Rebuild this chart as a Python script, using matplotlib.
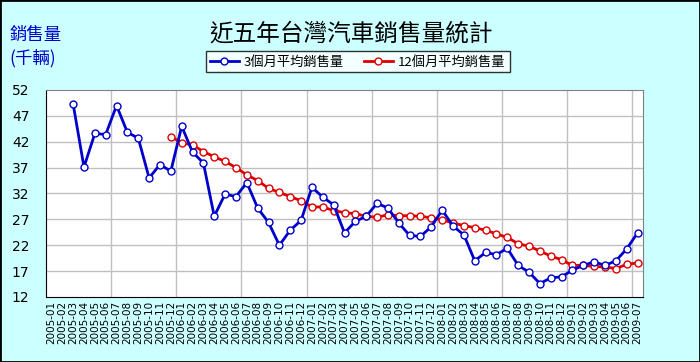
import matplotlib
matplotlib.use("Agg")
import matplotlib.pyplot as plt
from matplotlib.patches import Rectangle

plt.rcParams['font.family'] = ['Noto Sans CJK TC', 'DejaVu Sans']

# 月份標籤 2005-01 ~ 2009-07
months = []
for y in range(2005, 2010):
    for m in range(1, 13):
        if y == 2009 and m > 7:
            break
        months.append("%d-%02d" % (y, m))

# 3個月平均 (從 2005-03 開始)
avg3 = [49.3, 37.1, 43.6, 43.4, 49.0, 43.8, 42.7, 35.0, 37.6, 36.3,
        45.0, 40.0, 37.9, 27.6, 31.9, 31.4, 34.1, 29.2, 26.4, 22.0,
        24.9, 26.8, 33.2, 31.3, 29.8, 24.4, 26.6, 27.6, 30.1, 29.2,
        26.3, 23.9, 23.7, 25.6, 28.8, 25.7, 24.0, 19.0, 20.6, 20.2,
        21.4, 18.1, 16.8, 14.6, 15.7, 15.9, 17.2, 18.1, 18.8, 18.1,
        19.0, 21.3, 24.4]
# 12個月平均 (從 2005-12 開始)
avg12 = [43.0, 41.8, 41.4, 40.1, 39.1, 38.2, 37.0, 35.6, 34.5, 33.0,
         32.2, 31.4, 30.6, 29.4, 29.4, 28.7, 28.3, 28.1, 27.6, 27.4,
         27.9, 27.7, 27.7, 27.6, 27.3, 26.9, 26.3, 25.8, 25.4, 24.9,
         24.2, 23.5, 22.3, 21.8, 20.9, 19.9, 19.2, 18.1, 18.1, 17.9,
         17.8, 17.5, 18.3, 18.6]

x3 = list(range(len(months) - len(avg3), len(months)))
x12 = list(range(len(months) - len(avg12), len(months)))

bg = '#CCFFFF'
fig = plt.figure(figsize=(7, 3.62), dpi=100, facecolor=bg)
ax = fig.add_axes([46/700, 65/362, 597/700, 207/362])
ax.set_facecolor('white')

ax.plot(x3, avg3, color='#0000CC', lw=2, marker='o', ms=5,
        mfc='white', mec='#0000CC', mew=1, label='3個月平均銷售量', zorder=4)
ax.plot(x12, avg12, color='#DD0000', lw=2, marker='o', ms=5,
        mfc='white', mec='#DD0000', mew=1, label='12個月平均銷售量', zorder=3)

ax.set_xlim(-0.5, len(months) - 0.5)
ax.set_ylim(12, 52)
ax.set_yticks(range(12, 53, 5))
ax.set_xticks(range(len(months)))
ax.set_xticklabels(months, rotation=90, fontsize=7.5, family='DejaVu Sans')
ax.tick_params(axis='x', length=0, pad=3)
ax.tick_params(axis='y', length=0, pad=12, labelsize=10)
for lab in ax.get_yticklabels():
    lab.set_family('DejaVu Sans')

for v in range(17, 52, 5):
    ax.axhline(v, color='#C0C0C0', lw=1, zorder=1)
for b in range(6, len(months), 6):
    ax.axvline(b - 0.5, color='#C0C0C0', lw=1, zorder=1)

for s in ['top', 'right']:
    ax.spines[s].set_color('#808080')
for s in ['left', 'bottom']:
    ax.spines[s].set_color('black')

fig.text(0.502, 0.905, '近五年台灣汽車銷售量統計', ha='center', va='center', fontsize=17)
fig.text(0.013, 0.905, '銷售量', color='#0000CC', ha='left', va='center', fontsize=12.5)
fig.text(0.013, 0.838, '(千輛)', color='#0000CC', ha='left', va='center', fontsize=12.5)

leg = fig.legend(loc='center', bbox_to_anchor=(0.511, 0.829), ncol=2,
                 fontsize=9.5, frameon=True, fancybox=False, edgecolor='black',
                 borderpad=0.3, handlelength=2.2, columnspacing=1.5,
                 handletextpad=0.4, borderaxespad=0)
leg.get_frame().set_linewidth(1)

fig.patches.append(Rectangle((0, 0), 1, 1, transform=fig.transFigure,
                             fill=False, edgecolor='black', lw=2))

fig.savefig('out.png', dpi=100, facecolor=bg)
